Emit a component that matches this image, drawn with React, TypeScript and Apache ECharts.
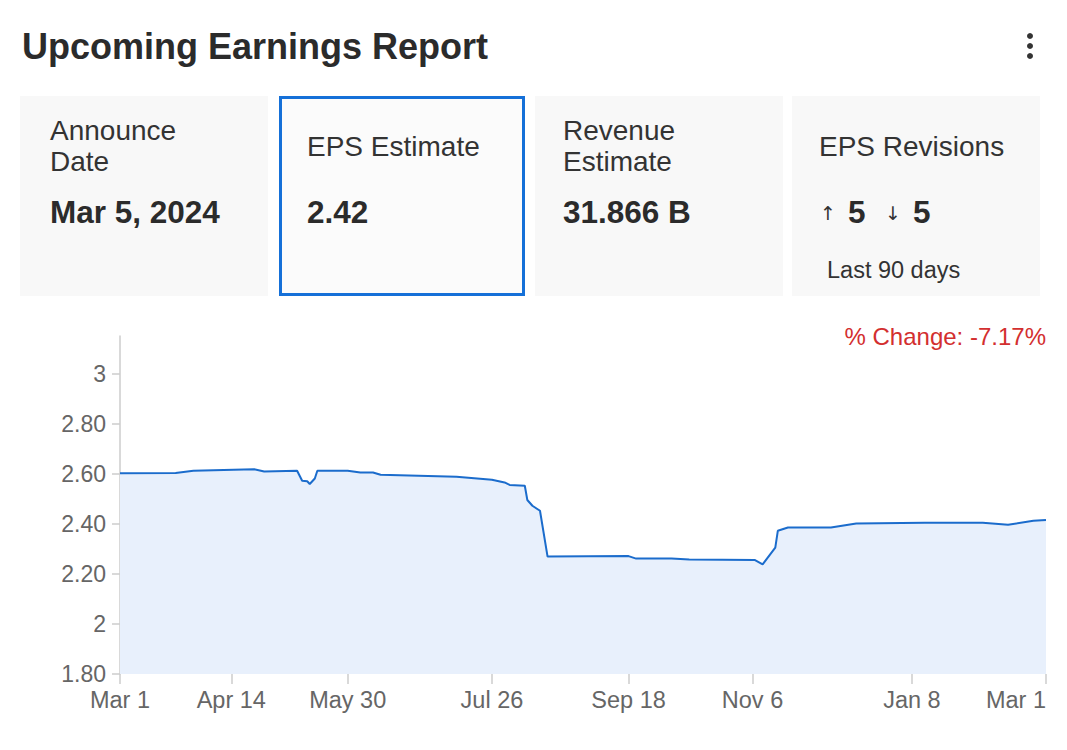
import React, { useEffect, useRef } from 'react';
import * as echarts from 'echarts';

// ---- data ----
const dates = [
  '2023-03-01', '2023-03-23', '2023-03-30', '2023-04-23', '2023-04-27', '2023-05-10',
  '2023-05-12', '2023-05-14', '2023-05-15', '2023-05-17', '2023-05-18', '2023-05-30',
  '2023-06-04', '2023-06-09', '2023-06-12', '2023-07-12', '2023-07-26', '2023-07-31',
  '2023-08-02', '2023-08-08', '2023-08-09', '2023-08-11', '2023-08-14', '2023-08-17',
  '2023-09-18', '2023-09-21', '2023-10-05', '2023-10-12', '2023-11-07', '2023-11-10',
  '2023-11-15', '2023-11-16', '2023-11-20', '2023-12-07', '2023-12-17', '2024-01-13',
  '2024-02-05', '2024-02-15', '2024-02-25', '2024-03-01',
];
const eps = [
  2.602, 2.603, 2.612, 2.618, 2.609, 2.612,
  2.572, 2.57, 2.559, 2.581, 2.612, 2.612,
  2.605, 2.605, 2.596, 2.588, 2.576, 2.565,
  2.555, 2.552, 2.495, 2.472, 2.452, 2.269,
  2.271, 2.261, 2.261, 2.257, 2.255, 2.238,
  2.305, 2.372, 2.385, 2.385, 2.401, 2.404,
  2.404, 2.396, 2.412, 2.415,
];
const xTickDates = ['2023-03-01', '2023-04-14', '2023-05-30', '2023-07-26', '2023-09-18', '2023-11-06', '2024-01-08', '2024-03-01'];
const yTicks = [1.8, 2, 2.2, 2.4, 2.6, 2.8, 3];
const monthNames = ['Jan', 'Feb', 'Mar', 'Apr', 'May', 'Jun', 'Jul', 'Aug', 'Sep', 'Oct', 'Nov', 'Dec'];

const titleText = 'Upcoming Earnings Report';
const changeText = '% Change: -7.17%';
const cardLabels = ['Announce\nDate', 'EPS Estimate', 'Revenue\nEstimate', 'EPS Revisions'];
const cardValues = ['Mar 5, 2024', '2.42', '31.866 B'];
const revisionsUp = '5';
const revisionsDown = '5';
const revisionsNote = 'Last 90 days';

const FONT = '"Liberation Sans", Arial, Helvetica, sans-serif';
const ARROW_FONT = '"DejaVu Sans", "Liberation Sans", sans-serif';

function toTs(s: string): number {
  const [y, m, d] = s.split('-').map(Number);
  return Date.UTC(y, m - 1, d);
}

function txt(x: number, y: number, text: string, size: number, opts: any = {}) {
  return {
    type: 'text',
    x,
    y,
    style: {
      text,
      fontSize: size,
      fontFamily: opts.family || FONT,
      fontWeight: opts.bold ? 'bold' : 'normal',
      fill: opts.color || '#333',
      lineHeight: opts.lineHeight,
      align: opts.align || 'left',
      textAlign: opts.align || 'left',
      verticalAlign: 'middle',
      textVerticalAlign: 'middle',
    },
  };
}

export default function App() {
  const ref = useRef<HTMLDivElement>(null);

  useEffect(() => {
    if (!ref.current) return;
    const chart = echarts.init(ref.current, undefined, { renderer: 'svg' });
    const data = dates.map((d, i) => [toTs(d), eps[i]]);
    const xTickVals = xTickDates.map(toTs);

    const cardXs = [20, 278, 535, 792];
    const cardW = 248;
    const cardTop = 96;
    const cardH = 200;

    const graphics: any[] = [
      txt(22, 46, titleText, 36, { bold: true, color: '#2b2b2b' }),
      { type: 'circle', shape: { cx: 1030, cy: 36, r: 3 }, style: { fill: '#333' } },
      { type: 'circle', shape: { cx: 1030, cy: 46, r: 3 }, style: { fill: '#333' } },
      { type: 'circle', shape: { cx: 1030, cy: 56, r: 3 }, style: { fill: '#333' } },
    ];
    cardXs.forEach((cx, i) => {
      if (i === 1) {
        graphics.push({
          type: 'rect',
          shape: { x: cx + 2.5, y: cardTop + 1.5, width: cardW - 5, height: cardH - 3 },
          style: { fill: '#fbfbfb', stroke: '#1570d8', lineWidth: 3 },
        });
      } else {
        graphics.push({
          type: 'rect',
          shape: { x: cx, y: cardTop, width: cardW, height: cardH },
          style: { fill: '#f8f8f8' },
        });
      }
    });
    const labelX = [50, 307, 563, 819];
    cardLabels.forEach((l, i) => {
      const twoLine = l.indexOf('\n') >= 0;
      graphics.push(txt(labelX[i], twoLine ? 145.5 : 146, l, 28, { lineHeight: 31, color: '#333' }));
    });
    cardValues.forEach((v, i) => {
      graphics.push(txt(labelX[i], 212, v, 31.5, { bold: true, color: '#2b2b2b' }));
    });
    graphics.push(txt(820, 213, '↑', 19, { color: '#333', family: ARROW_FONT }));
    graphics.push(txt(848, 212, revisionsUp, 31.5, { bold: true, color: '#2b2b2b' }));
    graphics.push(txt(885, 213, '↓', 19, { color: '#333', family: ARROW_FONT }));
    graphics.push(txt(913, 212, revisionsDown, 31.5, { bold: true, color: '#2b2b2b' }));
    graphics.push(txt(827, 270, revisionsNote, 23.5, { color: '#333' }));
    graphics.push(txt(1046, 336, changeText, 24, { color: '#d32f2f', align: 'right' }));

    chart.setOption({
      animation: false,
      backgroundColor: '#ffffff',
      graphic: graphics,
      grid: { left: 120, right: 21, top: 336, bottom: 76, containLabel: false },
      xAxis: {
        type: 'value',
        min: toTs('2023-03-01'),
        max: toTs('2024-03-01'),
        axisLine: { show: false },
        axisTick: { show: true, customValues: xTickVals, length: 10, lineStyle: { color: '#cccccc', width: 1.5 } },
        axisLabel: {
          customValues: xTickVals,
          color: '#666',
          fontSize: 23.5,
          fontFamily: FONT,
          margin: 14,
          alignMaxLabel: 'right',
          formatter: (val: number) => {
            const d = new Date(val);
            return `${monthNames[d.getUTCMonth()]} ${d.getUTCDate()}`;
          },
        },
        splitLine: { show: false },
      },
      yAxis: {
        type: 'value',
        min: 1.8,
        max: 3.15,
        axisLine: { show: true, lineStyle: { color: '#cccccc', width: 1.5 } },
        axisTick: { show: true, customValues: yTicks, length: 8, lineStyle: { color: '#cccccc', width: 1.5 } },
        axisLabel: {
          customValues: yTicks,
          color: '#666',
          fontSize: 23,
          fontFamily: FONT,
          margin: 14,
          formatter: (v: number) => (Math.abs(v - Math.round(v)) < 1e-9 ? String(Math.round(v)) : v.toFixed(2)),
        },
        splitLine: { show: false },
      },
      series: [
        {
          type: 'line',
          data,
          symbol: 'none',
          showSymbol: false,
          lineStyle: { color: '#1b6ccc', width: 2 },
          itemStyle: { color: '#1b6ccc' },
          areaStyle: { color: '#e8f0fc', origin: 'start', opacity: 1 },
        },
      ],
    });
    return () => chart.dispose();
  }, []);

  return (
    <div
      ref={ref}
      style={{ position: 'absolute', left: 0, top: 0, width: 1067, height: 750, background: '#fff' }}
    />
  );
}
